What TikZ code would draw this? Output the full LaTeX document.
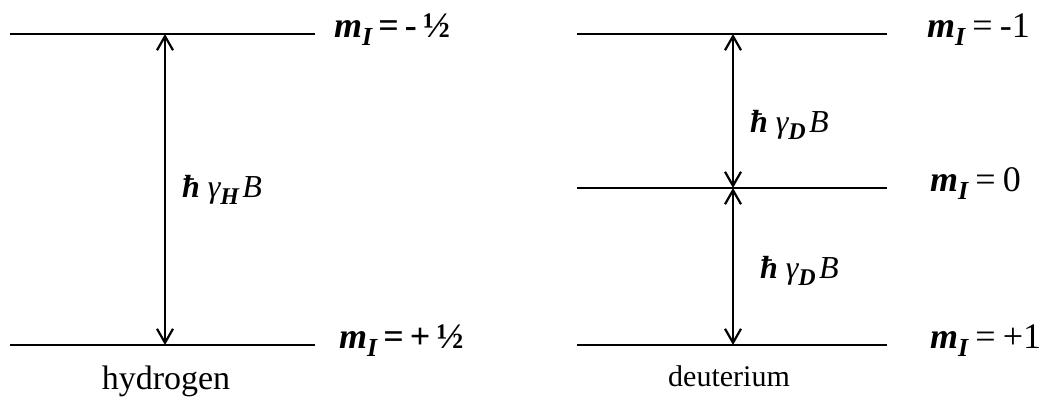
\documentclass[tikz,border=0pt]{standalone}
\usepackage{fontspec}
\setmainfont{Liberation Serif}
\usetikzlibrary{arrows.meta}

% m_I with the subscript lowered
\newcommand{\mI}{{\bfseries\itshape m}\raisebox{-0.5ex}{\fontsize{13}{14}\selectfont\bfseries\itshape I}}
\newcommand{\gap}[1]{{\bfseries\itshape ħ}\hspace{0.25em}{\itshape γ}\raisebox{-0.45ex}{\fontsize{12}{13}\selectfont\bfseries\itshape #1}\hspace{0.1em}{\itshape B}}

\begin{document}
\begin{tikzpicture}[x=0.5pt,y=-0.5pt,
  level/.style={line width=0.9pt},
  split/.style={line width=1.1pt,{Straight Barb[length=7pt,width=8pt]}-{Straight Barb[length=7pt,width=8pt]}},
  state/.style={anchor=base west,font=\fontsize{18}{20}\selectfont},
  energy/.style={anchor=west,font=\fontsize{16}{18}\selectfont}]
\useasboundingbox (0,0) rectangle (1049,403);

% --------- PARAMETRES ----------
\def\ytop{34}     % niveau haut
\def\ymid{188}    % niveau m=0 (deuterium)
\def\ybot{345}    % niveau bas
\def\xh{165}      % fleche hydrogene
\def\xd{733}      % fleches deuterium
% --------------------------------

% Hydrogene : deux niveaux
\coordinate (h1l) at (10,\ytop);  \coordinate (h1r) at (315,\ytop);
\coordinate (h2l) at (10,\ybot);  \coordinate (h2r) at (315,\ybot);
\draw[level] (h1l) -- (h1r);
\draw[level] (h2l) -- (h2r);
\coordinate (ha) at (\xh,\ytop);
\coordinate (hb) at (\xh,\ybot);
\draw[split] (ha) -- (hb);
\node[energy] (hgap) at (\xh+10,190) {\gap{H}};
\node[state] (hm1) at (327,\ytop+3) {\bfseries\mI\hspace{0.17em}=\hspace{0.17em}-\hspace{0.17em}½};
\node[state] (hm2) at (332,\ybot+3) {\bfseries\mI\hspace{0.17em}=\hspace{0.17em}+\hspace{0.17em}½};
\node[font=\fontsize{17}{19}\selectfont] (hname) at (166,381) {hydrogen};

% Deuterium : trois niveaux
\coordinate (d1l) at (577,\ytop); \coordinate (d1r) at (887,\ytop);
\coordinate (d2l) at (577,\ymid); \coordinate (d2r) at (887,\ymid);
\coordinate (d3l) at (577,\ybot); \coordinate (d3r) at (887,\ybot);
\draw[level] (d1l) -- (d1r);
\draw[level] (d2l) -- (d2r);
\draw[level] (d3l) -- (d3r);
\coordinate (da) at (\xd,\ytop);
\coordinate (db) at (\xd,\ymid);
\coordinate (dc) at (\xd,\ybot);
\draw[split] (da) -- (db);
\draw[split] (db) -- (dc);
\node[energy] (dgap1) at (\xd+10,125) {\gap{D}};
\node[energy] (dgap2) at (\xd+20,271) {\gap{D}};
\node[state] (dm1) at (920,\ytop+3) {\mI\hspace{0.2em}=\hspace{0.2em}-1};
\node[state] (dm2) at (923,\ymid+3) {\mI\hspace{0.2em}=\hspace{0.2em}0};
\node[state] (dm3) at (923,\ybot+3) {\mI\hspace{0.2em}=\hspace{0.2em}+1};
\node[font=\fontsize{15}{17}\selectfont] (dname) at (729,376) {deuterium};

\end{tikzpicture}
\end{document}
